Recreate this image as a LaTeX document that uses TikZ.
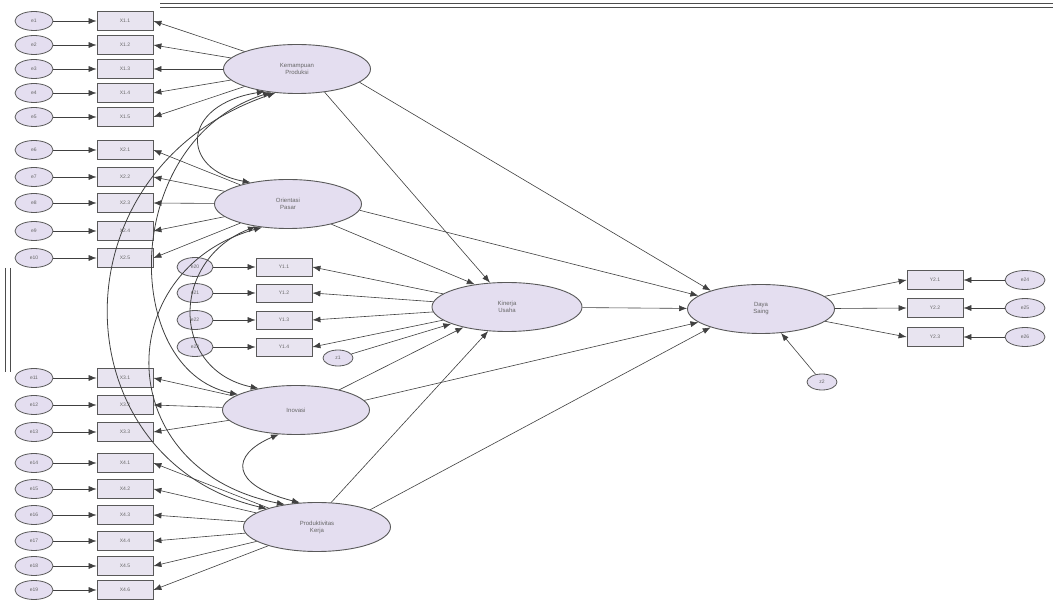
\documentclass[tikz,border=0pt]{standalone}
\usepackage{fontspec}
\setmainfont{Liberation Sans}
\usetikzlibrary{arrows.meta,shapes.geometric}
\definecolor{latfill}{RGB}{228,222,240}
\definecolor{boxfill}{RGB}{232,228,240}
\begin{document}
\begin{tikzpicture}[x=1pt,y=-1pt,
  err/.style={draw=black!65,line width=0.8pt,fill=latfill,ellipse,minimum width=38pt,minimum height=19pt,inner sep=0pt,font=\fontsize{5}{5}\selectfont,text=black!60},
  dist/.style={err,minimum width=30pt,minimum height=16pt},
  ind/.style={draw=black!65,line width=0.8pt,fill=boxfill,rectangle,minimum width=56pt,minimum height=19pt,inner sep=0pt,font=\fontsize{5}{5}\selectfont,text=black!60},
  lat/.style={draw=black!65,line width=0.9pt,fill=latfill,ellipse,minimum width=147pt,minimum height=49pt,inner sep=0pt,align=center,font=\fontsize{6}{7}\selectfont,text=black!60},
  pth/.style={-{Latex[length=8pt,width=6pt]},draw=black!75,line width=0.6pt},
  cov/.style={{Latex[length=8pt,width=6pt]}-{Latex[length=8pt,width=6pt]},draw=black!75,line width=0.8pt},
  frm/.style={draw=black!70,line width=0.6pt}]
\useasboundingbox (0,0) rectangle (1053,601);
\fill[white] (0,0) rectangle (1053,601);
% frame fragments
\draw[frm] (160,3) -- (1053,3);
\draw[frm] (160,7) -- (1053,7);
\draw[frm] (5,268) -- (5,372);
\draw[frm] (10,268) -- (10,372);
% latent variables
\node[lat] (kp) at (297,69) {Kemampuan\\Produksi};
\node[lat] (op) at (288,204) {Orientasi\\Pasar};
\node[lat] (inv) at (296,410) {Inovasi};
\node[lat] (pk) at (317,527) {Produktivitas\\Kerja};
\node[lat,minimum width=150pt] (ku) at (507,307) {Kinerja\\Usaha};
\node[lat] (ds) at (761,309) {Daya\\Saing};
% X1
\foreach \i/\y in {1/21,2/45,3/69,4/93,5/117}{
  \node[err] (e\i) at (34,\y) {e\i};
  \node[ind] (x1\i) at (125,\y) {X1.\i};
  \draw[pth] (e\i) -- (x1\i);
  \draw[pth] (kp) -- (x1\i.east);
}
% X2
\foreach \i/\j/\y in {1/6/150,2/7/177,3/8/203,4/9/231,5/10/258}{
  \node[err] (e\j) at (34,\y) {e\j};
  \node[ind] (x2\i) at (125,\y) {X2.\i};
  \draw[pth] (e\j) -- (x2\i);
  \draw[pth] (op) -- (x2\i.east);
}
% X3
\foreach \i/\j/\y in {1/11/378,2/12/405,3/13/432}{
  \node[err] (e\j) at (34,\y) {e\j};
  \node[ind] (x3\i) at (125,\y) {X3.\i};
  \draw[pth] (e\j) -- (x3\i);
  \draw[pth] (inv) -- (x3\i.east);
}
% X4
\foreach \i/\j/\y in {1/14/463,2/15/489,3/16/515,4/17/541,5/18/566,6/19/590}{
  \node[err] (e\j) at (34,\y) {e\j};
  \node[ind] (x4\i) at (125,\y) {X4.\i};
  \draw[pth] (e\j) -- (x4\i);
  \draw[pth] (pk) -- (x4\i.east);
}
% Y1
\foreach \i/\j/\y in {1/20/267,2/21/293,3/22/320,4/23/347}{
  \node[err,minimum width=36pt] (e\j) at (195,\y) {e\j};
  \node[ind,minimum height=18pt] (y1\i) at (284,\y) {Y1.\i};
  \draw[pth] (e\j) -- (y1\i);
  \draw[pth] (ku) -- (y1\i.east);
}
\node[dist] (z1) at (338,358) {z1};
\draw[pth] (z1) -- (ku);
% Y2
\foreach \i/\j/\y in {1/24/280,2/25/308,3/26/337}{
  \node[ind,minimum height=19pt] (y2\i) at (935,\y) {Y2.\i};
  \node[err,minimum width=40pt] (e\j) at (1025,\y) {e\j};
  \draw[pth] (e\j) -- (y2\i);
  \draw[pth] (ds) -- (y2\i.west);
}
\node[dist] (z2) at (822,382) {z2};
\draw[pth] (z2) -- (ds);
% structural paths
\draw[pth] (kp.-40) -- (ku.125);
\draw[pth] (op.-25) -- (ku.145);
\draw[pth] (inv.25) -- (ku.205);
\draw[pth] (pk.60) -- (ku.232);
\draw[pth] (kp.-12) -- (ds.160);
\draw[pth] (op.-5) -- (ds.168);
\draw[pth] (ku) -- (ds);
\draw[pth] (inv.8) -- (ds.192);
\draw[pth] (pk.18) -- (ds.200);
% covariances
\draw[cov] (kp.215) .. controls (180,105) and (180,170) .. (op.150);
\draw[cov] (kp.222) .. controls (120,140) and (120,370) .. (inv.165);
\draw[cov] (kp.228) .. controls (50,170) and (60,460) .. (pk.160);
\draw[cov] (op.215) .. controls (170,260) and (170,370) .. (inv.150);
\draw[cov] (op.222) .. controls (110,270) and (110,470) .. (pk.145);
\draw[cov] (inv.235) .. controls (230,455) and (230,485) .. (pk.125);
\end{tikzpicture}
\end{document}
